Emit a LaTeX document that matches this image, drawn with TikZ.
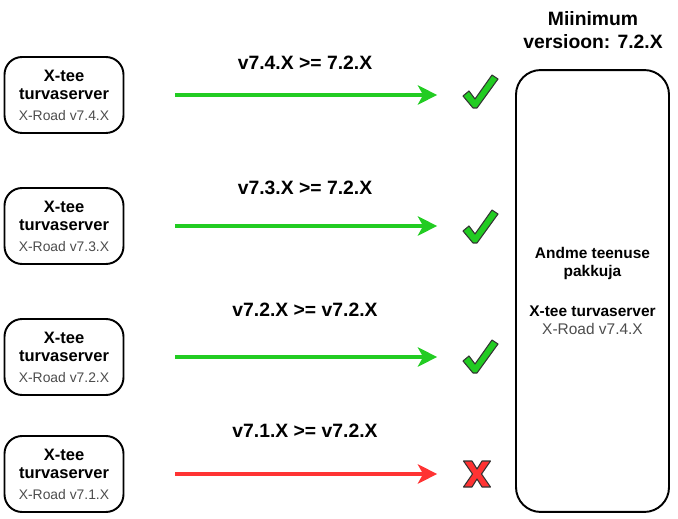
\documentclass[tikz,border=0pt]{standalone}
\usepackage{fontspec}
\setmainfont{Liberation Sans}
\usepackage{tikz}
\usetikzlibrary{arrows.meta,positioning,calc}
\definecolor{okGreen}{HTML}{22CC22}
\definecolor{badRed}{HTML}{FF3333}
\definecolor{markLine}{HTML}{333333}
\definecolor{verGray}{HTML}{4D4D4D}

\tikzset{
  srv/.style={draw=black,line width=1.1pt,rounded corners=10pt,fill=white,
    minimum width=2.38cm,minimum height=1.52cm,align=center,inner sep=1pt,
    font=\fontsize{9.4}{10.6}\selectfont},
  provider/.style={draw=black,line width=1.1pt,rounded corners=14pt,
    minimum width=3.06cm,minimum height=8.84cm,align=center,
    font=\fontsize{8.8}{10.2}\selectfont},
  cmp/.style={font=\bfseries\fontsize{11}{13}\selectfont},
  okarrow/.style={draw=okGreen,line width=2.1pt,-{Stealth[length=11pt,width=11pt,inset=3pt]}},
  badarrow/.style={okarrow,draw=badRed,-{Stealth[length=11pt,width=11pt,inset=3pt,fill=badRed]}},
  markbox/.style={minimum width=0.7cm,minimum height=0.7cm,inner sep=0pt},
  okmark/.pic={
    \filldraw[fill=okGreen,draw=markLine,line width=0.6pt,line join=round]
      (-17,4) -- (-11,-1) -- (-5,7) -- (12,-17) -- (18,-13) -- (-3,16) -- (-7,16) -- cycle;
  },
  badmark/.pic={
    \filldraw[fill=badRed,draw=markLine,line width=0.6pt,line join=round]
      (-13.5,-13) -- (-5,-13) -- (0,-5) -- (5,-13) -- (13.5,-13) -- (4.5,0) -- (13.5,13)
      -- (5,13) -- (0,5) -- (-5,13) -- (-13.5,13) -- (-4.5,0) -- cycle;
  }
}

\newcommand{\srvtext}[1]{\textbf{X-tee}\\\textbf{turvaserver}\\[1pt]{\fontsize{7.9}{9}\selectfont\color{verGray}X-Road v#1}}

\begin{document}
\begin{tikzpicture}[x=0.02cm,y=-0.02cm]
  \useasboundingbox (0,0) rectangle (678,519);

  % security servers on the left
  \node[srv] (s74) at (64,95) {\srvtext{7.4.X}};
  \node[srv] (s73) at (64,226) {\srvtext{7.3.X}};
  \node[srv] (s72) at (64,357) {\srvtext{7.2.X}};
  \node[srv] (s71) at (64,474) {\srvtext{7.1.X}};

  % service provider
  \node[provider] (prov) at (592.5,291) {\textbf{Andme teenuse}\\\textbf{pakkuja}\\[12.5pt]\textbf{X-tee turvaserver}\\{\color{verGray}X-Road v7.4.X}};
  \node[font=\bfseries\fontsize{11}{13.5}\selectfont,align=center] (minver) at (593,30) {Miinimum\\versioon: 7.2.X};

  % result marks
  \node[markbox] (m74) at (480,92) {};
  \node[markbox] (m73) at (480,227) {};
  \node[markbox] (m72) at (480,357) {};
  \node[markbox] (m71) at (477,474) {};
  \pic at (m74) {okmark};
  \pic at (m73) {okmark};
  \pic at (m72) {okmark};
  \pic at (m71) {badmark};

  % version checks
  \draw[okarrow] ([xshift=1.02cm]s74.east) -- ([xshift=-0.5cm]m74.west |- s74.east);
  \draw[okarrow] ([xshift=1.02cm]s73.east) -- ([xshift=-0.5cm]m73.west |- s73.east);
  \draw[okarrow] ([xshift=1.02cm]s72.east) -- ([xshift=-0.5cm]m72.west |- s72.east);
  \draw[badarrow] ([xshift=1.02cm]s71.east) -- ([xshift=-0.44cm]m71.west |- s71.east);

  \node[cmp] (c74) at (305,63) {v7.4.X >= 7.2.X};
  \node[cmp] (c73) at (305,188) {v7.3.X >= 7.2.X};
  \node[cmp] (c72) at (305,310) {v7.2.X >= v7.2.X};
  \node[cmp] (c71) at (305,431) {v7.1.X >= v7.2.X};
\end{tikzpicture}
\end{document}
